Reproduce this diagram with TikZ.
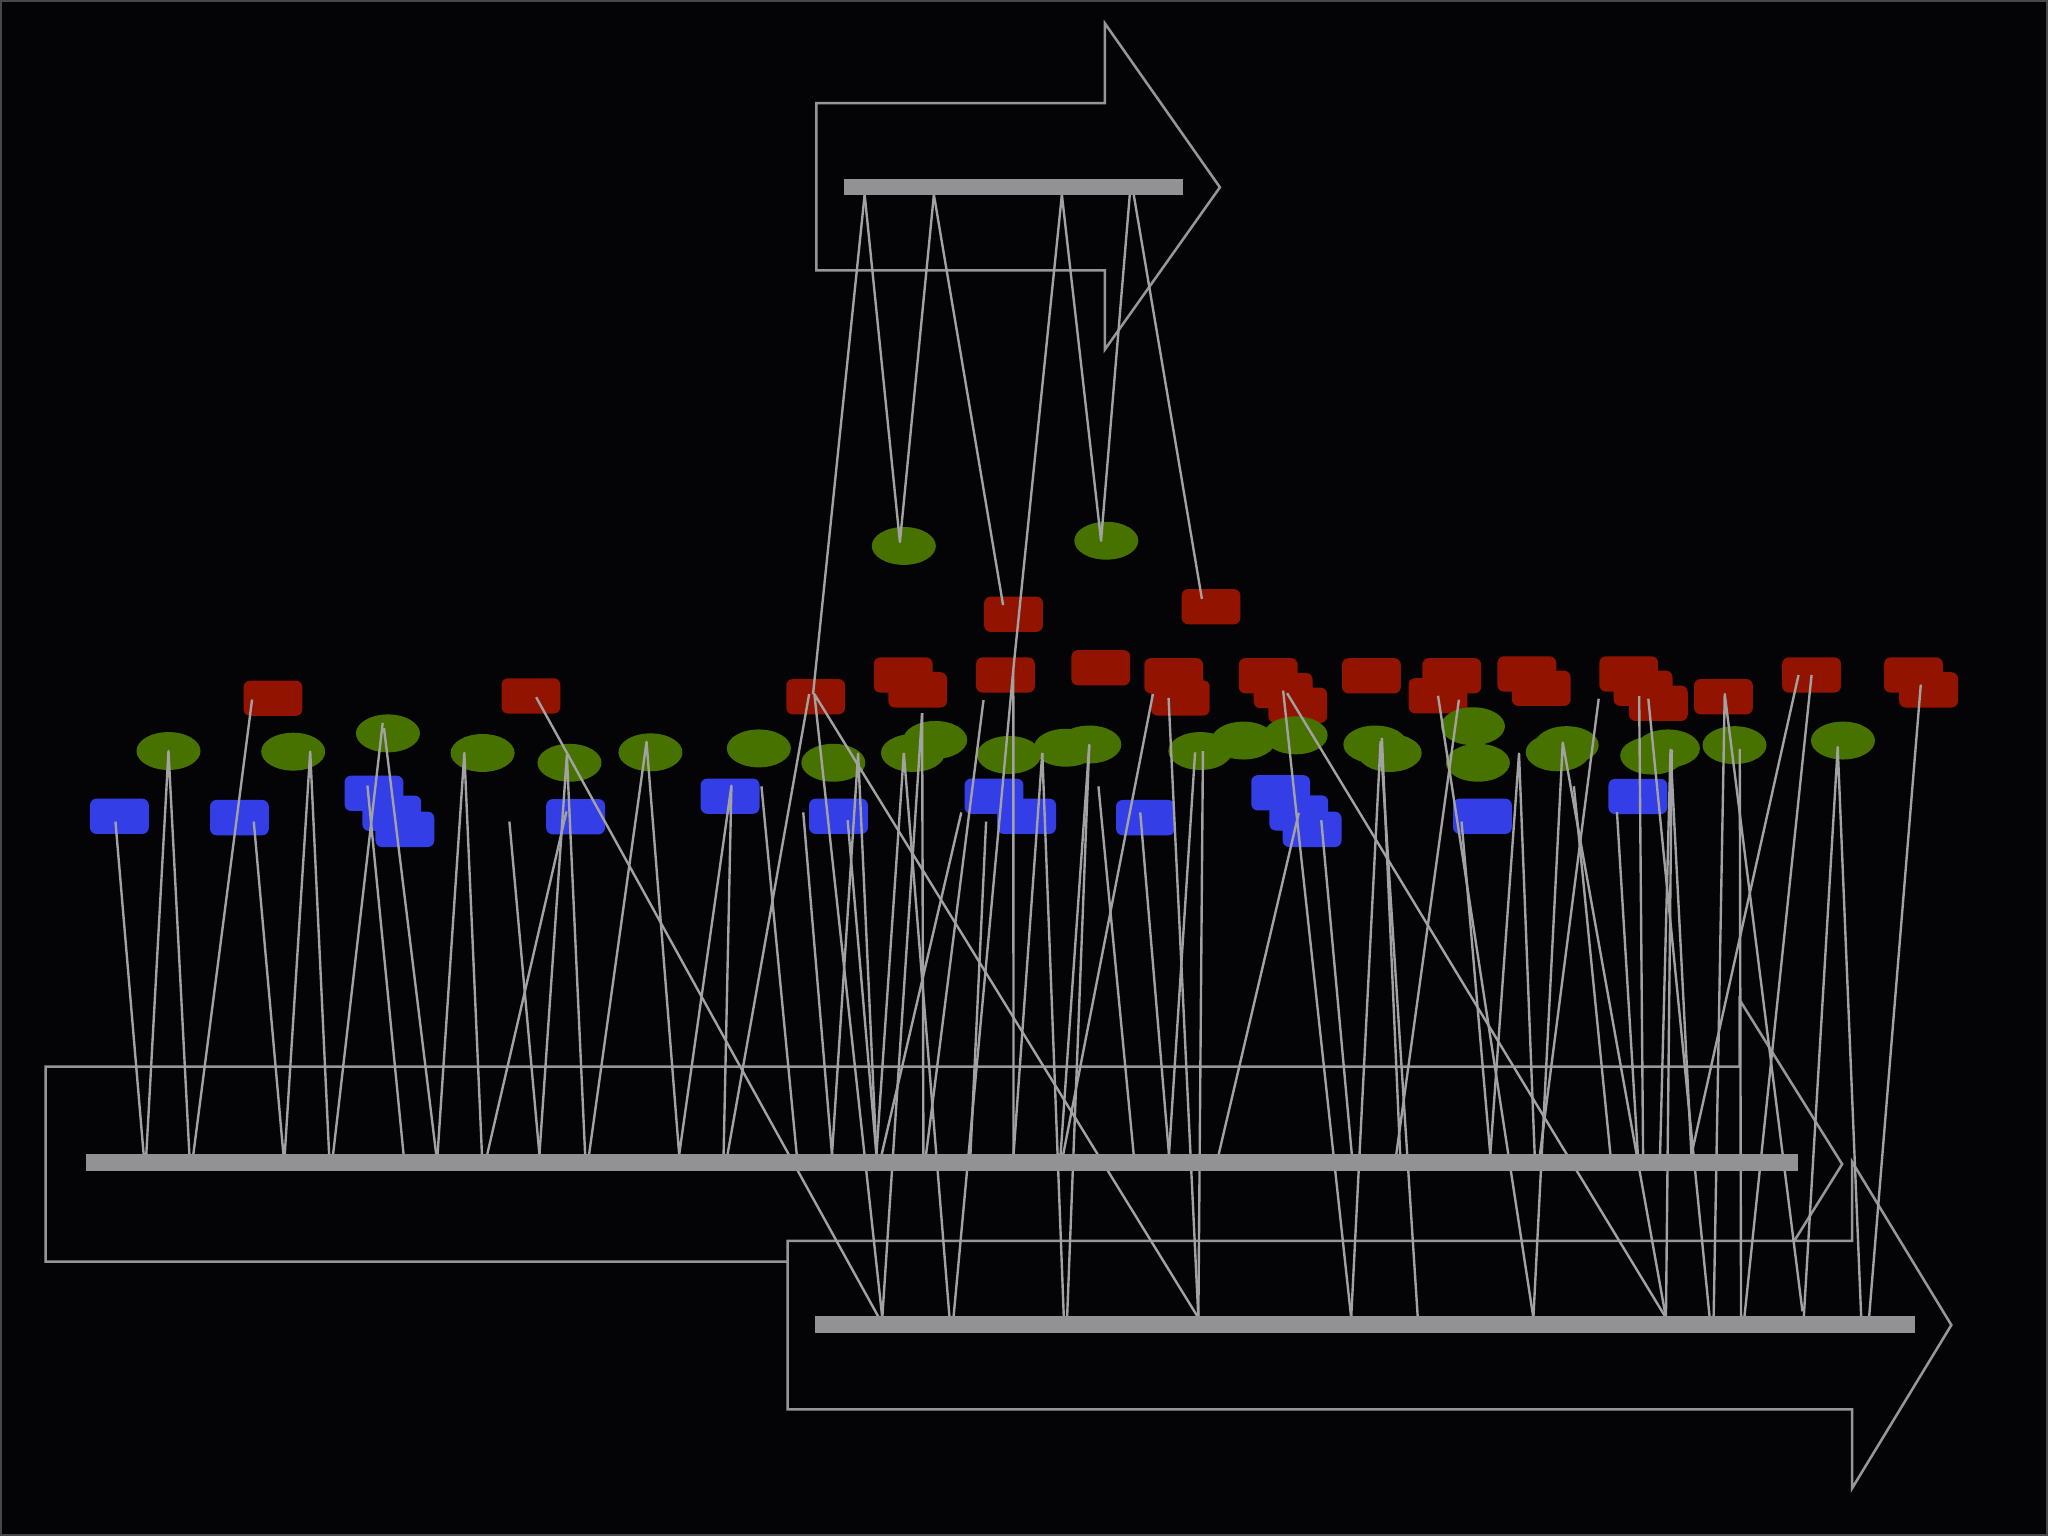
\documentclass[tikz,border=0pt]{standalone}
\usetikzlibrary{shapes.geometric}
\definecolor{bgblack}{RGB}{4,4,7}
\definecolor{framegray}{RGB}{72,72,72}
\definecolor{edgegray}{RGB}{150,150,150}
\definecolor{wiregray}{RGB}{162,162,162}
\definecolor{bargray}{RGB}{146,146,148}
\definecolor{leafgreen}{RGB}{72,114,0}
\definecolor{boxred}{RGB}{146,20,0}
\definecolor{boxblue}{RGB}{52,62,230}
\tikzset{
  leaf/.style={ellipse, fill=leafgreen, minimum width=0.49cm, minimum height=0.29cm, inner sep=0pt},
  redbox/.style={rectangle, rounded corners=0.05cm, fill=boxred, minimum width=0.45cm, minimum height=0.27cm, inner sep=0pt},
  bluebox/.style={redbox, fill=boxblue},
  wire/.style={draw=wiregray, line width=0.52pt, line join=round},
  track/.style={rectangle, fill=bargray, inner sep=0pt, minimum height=0.128cm},
  outline/.style={draw=edgegray, fill=bgblack, line width=0.55pt},
}

\begin{document}
\begin{tikzpicture}[x=0.01cm, y=-0.01cm]
  \useasboundingbox (0,0) rectangle (1568,1176);
  \fill[bgblack] (0,0) rectangle (1568,1176);
  \draw[framegray, line width=0.5pt] (1,1) rectangle (1567,1175);

  % Block arrows
  \draw[outline] (625,79) -- (846,79) -- (846,18) -- (934,143.4) -- (846,267.5) -- (846,207) -- (625,207) -- cycle;
  \draw[outline] (35,816.7) -- (1332,816.7) -- (1332,765.7) -- (1410.4,891.3) -- (1332,1017) -- (1332,966) -- (35,966) -- cycle;
  \draw[outline] (603,950) -- (1418,950) -- (1418,889.5) -- (1494,1014.5) -- (1418,1139.5) -- (1418,1079) -- (603,1079) -- cycle;

  % Red boxes
  \node[redbox] (r1) at (209,534.6) {};
  \node[redbox] (r2) at (406.5,532.8) {};
  \node[redbox] (r3) at (624.5,533.4) {};
  \node[redbox] (r4) at (776,470.3) {};
  \node[redbox] (r5) at (927.2,464.5) {};
  \node[redbox] (r6) at (691.5,516.8) {};
  \node[redbox] (r7) at (702.6,528.2) {};
  \node[redbox] (r8) at (769.8,516.8) {};
  \node[redbox] (r9) at (842.8,511.2) {};
  \node[redbox] (r10) at (898.6,517.4) {};
  \node[redbox] (r11) at (903.7,534.4) {};
  \node[redbox] (r12) at (971,517.4) {};
  \node[redbox] (r13) at (982.4,528.7) {};
  \node[redbox] (r14) at (993.6,540) {};
  \node[redbox] (r15) at (1050,517.4) {};
  \node[redbox] (r16) at (1111.5,517.4) {};
  \node[redbox] (r17) at (1101,532.7) {};
  \node[redbox] (r18) at (1169,516) {};
  \node[redbox] (r19) at (1180,527) {};
  \node[redbox] (r20) at (1247,516) {};
  \node[redbox] (r21) at (1258,527) {};
  \node[redbox] (r22) at (1269.7,538.5) {};
  \node[redbox] (r23) at (1319.5,533.4) {};
  \node[redbox] (r24) at (1387,516.8) {};
  \node[redbox] (r25) at (1465,516.8) {};
  \node[redbox] (r26) at (1476.6,528.2) {};

  % Green leaves
  \node[leaf] (g1) at (692,418) {};
  \node[leaf] (g2) at (847,414) {};
  \node[leaf] (g3) at (129,575) {};
  \node[leaf] (g4) at (224.5,575.5) {};
  \node[leaf] (g5) at (297,561.5) {};
  \node[leaf] (g6) at (369.5,576.5) {};
  \node[leaf] (g7) at (436,584) {};
  \node[leaf] (g8) at (498,576) {};
  \node[leaf] (g9) at (581,573) {};
  \node[leaf] (g10) at (638,584) {};
  \node[leaf] (g11) at (699,576.5) {};
  \node[leaf] (g12) at (716,566.5) {};
  \node[leaf] (g13) at (772.5,578) {};
  \node[leaf] (g14) at (816,572.5) {};
  \node[leaf] (g15) at (834,570) {};
  \node[leaf] (g16) at (919,575) {};
  \node[leaf] (g17) at (952,567) {};
  \node[leaf] (g18) at (992,563) {};
  \node[leaf] (g19) at (1053,570) {};
  \node[leaf] (g20) at (1064,576.5) {};
  \node[leaf] (g21) at (1127.7,556) {};
  \node[leaf] (g22) at (1131.5,584) {};
  \node[leaf] (g23) at (1192.6,576) {};
  \node[leaf] (g24) at (1199.5,570.5) {};
  \node[leaf] (g25) at (1265,578.5) {};
  \node[leaf] (g26) at (1277,573) {};
  \node[leaf] (g27) at (1328,570.5) {};
  \node[leaf] (g28) at (1411,567) {};

  % Blue boxes
  \node[bluebox] (b1) at (91.4,625) {};
  \node[bluebox] (b2) at (183.3,626) {};
  \node[bluebox] (b3) at (286.3,607.4) {};
  \node[bluebox] (b4) at (300,622.7) {};
  \node[bluebox] (b5) at (310,635) {};
  \node[bluebox] (b6) at (440.7,625.3) {};
  \node[bluebox] (b7) at (559,609.6) {};
  \node[bluebox] (b8) at (642,625) {};
  \node[bluebox] (b9) at (761,609.6) {};
  \node[bluebox] (b10) at (786,625) {};
  \node[bluebox] (b11) at (877,626) {};
  \node[bluebox] (b12) at (980.5,607) {};
  \node[bluebox] (b13) at (994.4,622.4) {};
  \node[bluebox] (b14) at (1004.6,635) {};
  \node[bluebox] (b15) at (1135,625) {};
  \node[bluebox] (b16) at (1254,609.8) {};

  % Taps on the upper track
  \coordinate (t1) at (662,149);
  \coordinate (t2) at (715,149);
  \coordinate (t3) at (813,149);
  \coordinate (t4) at (865,149);
  \coordinate (t5) at (868,149);

  % Taps on the middle track
  \coordinate (m1) at (110,884);
  \coordinate (m2) at (112,884);
  \coordinate (m3) at (145,884);
  \coordinate (m4) at (148,884);
  \coordinate (m5) at (217,884);
  \coordinate (m6) at (218,884);
  \coordinate (m7) at (252,884);
  \coordinate (m8) at (255,884);
  \coordinate (m9) at (309,884);
  \coordinate (m10) at (334,884);
  \coordinate (m11) at (335,884);
  \coordinate (m12) at (369,884);
  \coordinate (m13) at (373,884);
  \coordinate (m14) at (413,884);
  \coordinate (m15) at (448,884);
  \coordinate (m16) at (451,884);
  \coordinate (m17) at (520,884);
  \coordinate (m18) at (554,884);
  \coordinate (m19) at (557,884);
  \coordinate (m20) at (610,884);
  \coordinate (m21) at (637,884);
  \coordinate (m22) at (671,884);
  \coordinate (m23) at (675,884);
  \coordinate (m24) at (707,884);
  \coordinate (m25) at (709,884);
  \coordinate (m26) at (743,884);
  \coordinate (m27) at (776,884);
  \coordinate (m28) at (812,884);
  \coordinate (m29) at (814,884);
  \coordinate (m30) at (868,884);
  \coordinate (m31) at (895,884);
  \coordinate (m32) at (933,884);
  \coordinate (m33) at (1035,884);
  \coordinate (m34) at (1069,884);
  \coordinate (m35) at (1072,884);
  \coordinate (m36) at (1141,884);
  \coordinate (m37) at (1175,884);
  \coordinate (m38) at (1179,884);
  \coordinate (m39) at (1233,884);
  \coordinate (m40) at (1254,884);
  \coordinate (m41) at (1258,884);
  \coordinate (m42) at (1271,884);
  \coordinate (m43) at (1295,884);

  % Taps on the lower track
  \coordinate (l1) at (673,1009);
  \coordinate (l2) at (675.5,1009);
  \coordinate (l3) at (727,1009);
  \coordinate (l4) at (730,1009);
  \coordinate (l5) at (814.5,1009);
  \coordinate (l6) at (817,1009);
  \coordinate (l7) at (917.5,1009);
  \coordinate (l8) at (1034.5,1009);
  \coordinate (l9) at (1085.5,1009);
  \coordinate (l10) at (1174,1009);
  \coordinate (l11) at (1275.5,1009);
  \coordinate (l12) at (1309,1009);
  \coordinate (l13) at (1312,1009);
  \coordinate (l14) at (1333,1009);
  \coordinate (l15) at (1335.5,1009);
  \coordinate (l16) at (1380,1004);
  \coordinate (l17) at (1381,1009);
  \coordinate (l18) at (1425,1009);
  \coordinate (l19) at (1431,1009);

  % Loose ends
  \coordinate (p1) at (390,629);
  \coordinate (p2) at (583,602);
  \coordinate (p3) at (615,622);
  \coordinate (p4) at (736,622);
  \coordinate (p5) at (706,546);
  \coordinate (p6) at (753,536);
  \coordinate (p7) at (755,629);
  \coordinate (p8) at (841,602);
  \coordinate (p9) at (1163,577);
  \coordinate (p10) at (1224,535);
  \coordinate (p11) at (1205,602);

  % Upper track links
  \draw[wire] (t1) -- ([shift={(-3,-3)}]g1.center) -- (t2);
  \draw[wire] (t1) -- ([shift={(-2,-2)}]r3.center);
  \draw[wire] (t2) -- ([shift={(-8,-7)}]r4.center);
  \draw[wire] (t3) -- ([shift={(6,-4)}]r8.center);
  \draw[wire] (t3) -- ([shift={(-4,0)}]g2.center) -- (t4);
  \draw[wire] (t5) -- ([shift={(-7,-6)}]r5.center);

  % Middle track links
  \draw[wire] (m1) -- ([shift={(-3,4)}]b1.center);
  \draw[wire] (m2) -- (g3.center) -- (m3);
  \draw[wire] (m4) -- ([shift={(-16,1)}]r1.center);
  \draw[wire] (m5) -- ([shift={(11,3)}]b2.center);
  \draw[wire] (m6) -- ([shift={(13,0)}]g4.center) -- (m7);
  \draw[wire] (m8) -- ([shift={(-4,-8)}]g5.center);
  \draw[wire] (m9) -- ([shift={(-5,-6)}]b3.center);
  \draw[wire] (m10) -- ([shift={(-3,-4)}]g5.center);
  \draw[wire] (m11) -- ([shift={(-14,0)}]g6.center) -- (m12);
  \draw[wire] (m13) -- ([shift={(-7,-4)}]b6.center);
  \draw[wire] (m14) -- (p1);
  \draw[wire] (m14) -- ([shift={(-2,-6)}]g7.center) -- (m15);
  \draw[wire] (m16) -- ([shift={(-3,-8)}]g8.center) -- (m17) -- ([shift={(1,-8)}]b7.center) -- (m18);
  \draw[wire] (m19) -- ([shift={(-5,-2)}]r3.center);
  \draw[wire] (m20) -- (p2);
  \draw[wire] (m21) -- (p3);
  \draw[wire] (m21) -- ([shift={(19,-7)}]g10.center) -- (m22);
  \draw[wire] (m22) -- ([shift={(7,3)}]b8.center);
  \draw[wire] (m22) -- ([shift={(-7,0)}]g11.center);
  \draw[wire] (m23) -- (p4);
  \draw[wire] (m24) -- (p5);
  \draw[wire] (m25) -- (p6);
  \draw[wire] (m26) -- (p7);
  \draw[wire] (m27) -- ([shift={(6,-4)}]r8.center);
  \draw[wire] (m27) -- ([shift={(-18,4)}]g14.center);
  \draw[wire] (m28) -- (g15.center);
  \draw[wire] (m29) -- ([shift={(-21,-3)}]r11.center);
  \draw[wire] (m30) -- (p8);
  \draw[wire] (m31) -- ([shift={(-4,-4)}]b11.center);
  \draw[wire] (m31) -- ([shift={(-4,1)}]g16.center);
  \draw[wire] (m32) -- (b13.center);
  \draw[wire] (m33) -- ([shift={(7,-7)}]b14.center);
  \draw[wire] (m34) -- ([shift={(16,3)}]r17.center);
  \draw[wire] (m35) -- ([shift={(5,-5)}]g19.center);
  \draw[wire] (m36) -- ([shift={(-16,4)}]b15.center);
  \draw[wire] (m36) -- (p9) -- (m37);
  \draw[wire] (m38) -- (p10);
  \draw[wire] (m39) -- (p11);
  \draw[wire] (m40) -- ([shift={(-16,12)}]b16.center);
  \draw[wire] (m41) -- ([shift={(-3,6)}]r21.center);
  \draw[wire] (m42) -- ([shift={(2,1)}]g26.center) -- (m43);
  \draw[wire] (m43) -- ([shift={(-10,0)}]r24.center);

  % Lower track links
  \draw[wire] (l1) -- ([shift={(4,1)}]r2.center);
  \draw[wire] (l2) -- ([shift={(-1,-2)}]r3.center) -- (l7);
  \draw[wire] (l2) -- (p5);
  \draw[wire] (l3) -- ([shift={(-7,0)}]g11.center);
  \draw[wire] (l4) -- ([shift={(6,-4)}]r8.center);
  \draw[wire] (l5) -- ([shift={(-18,4)}]g14.center);
  \draw[wire] (l6) -- (g15.center);
  \draw[wire] (l7) -- ([shift={(-9,0)}]r11.center);
  \draw[wire] (l7) -- ([shift={(2,0)}]g16.center);
  \draw[wire] (l8) -- (r13.center);
  \draw[wire] (l8) -- ([shift={(4,-2)}]g19.center) -- (l9);
  \draw[wire] (l10) -- (r17.center);
  \draw[wire] (l10) -- ([shift={(-3,-2)}]g24.center) -- (l11);
  \draw[wire] (l11) -- ([shift={(3,2)}]r13.center);
  \draw[wire] (l11) -- ([shift={(3,1)}]g26.center);
  \draw[wire] (l12) -- ([shift={(4,8)}]r21.center);
  \draw[wire] (l13) -- ([shift={(1,-2)}]r23.center) -- (l16);
  \draw[wire] (l14) -- ([shift={(4,3)}]g27.center);
  \draw[wire] (l15) -- (r24.center);
  \draw[wire] (l17) -- ([shift={(-4,5)}]g28.center) -- (l18);
  \draw[wire] (l19) -- ([shift={(-6,-4)}]r26.center);

  % Tracks
  \node[track, minimum width=2.60cm] (topbar) at (776,143.2) {};
  \node[track, minimum width=13.10cm] (midbar) at (721,890) {};
  \node[track, minimum width=8.42cm] (lowbar) at (1045,1014.3) {};
\end{tikzpicture}
\end{document}
